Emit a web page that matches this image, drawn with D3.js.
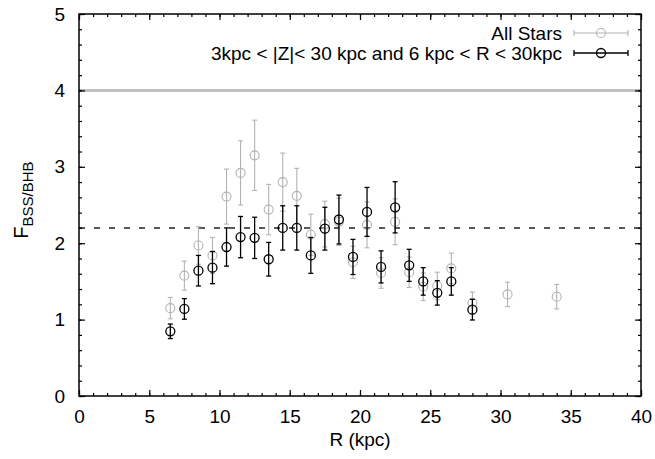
<!DOCTYPE html>
<html>
<head>
<meta charset="utf-8">
<script src="https://cdn.jsdelivr.net/npm/d3@7"></script>
<style>
    body { margin: 0; background: #fff; }
    svg { display: block; font-family: "Liberation Sans", Arial, sans-serif; }
</style>
</head>
<body>
<div id="space"></div>
<script>
// All stars (grey)
var all_r   = [6.5, 7.5, 8.5, 9.5, 10.5, 11.5, 12.5, 13.5, 14.5, 15.5, 16.5, 17.5, 18.5, 19.5, 20.5, 21.5, 22.5, 23.5, 24.5, 25.5, 26.5, 28, 30.5, 34];
var all_f   = [1.15, 1.575, 1.97, 1.84, 2.61, 2.92, 3.15, 2.44, 2.80, 2.62, 2.11, 2.25, 2.28, 1.75, 2.24, 1.61, 2.28, 1.62, 1.43, 1.44, 1.67, 1.22, 1.33, 1.30];
var all_err = [0.14, 0.19, 0.245, 0.235, 0.36, 0.42, 0.46, 0.33, 0.38, 0.36, 0.27, 0.30, 0.31, 0.21, 0.30, 0.20, 0.30, 0.20, 0.18, 0.18, 0.20, 0.14, 0.16, 0.16];

// 3kpc < |Z| < 30kpc and 6kpc < R < 30kpc (black)
var sub_r   = [6.5, 7.5, 8.5, 9.5, 10.5, 11.5, 12.5, 13.5, 14.5, 15.5, 16.5, 17.5, 18.5, 19.5, 20.5, 21.5, 22.5, 23.5, 24.5, 25.5, 26.5, 28];
var sub_f   = [0.847, 1.14, 1.64, 1.68, 1.95, 2.08, 2.07, 1.79, 2.20, 2.20, 1.84, 2.19, 2.31, 1.82, 2.41, 1.69, 2.47, 1.71, 1.50, 1.35, 1.50, 1.13];
var sub_err = [0.095, 0.135, 0.20, 0.21, 0.25, 0.27, 0.27, 0.22, 0.29, 0.29, 0.235, 0.28, 0.32, 0.23, 0.32, 0.21, 0.335, 0.21, 0.18, 0.16, 0.18, 0.135];

var legend_labels = ["All Stars", "3kpc < |Z|< 30 kpc and 6 kpc < R < 30kpc"];
var x_ticks = [0, 5, 10, 15, 20, 25, 30, 35, 40];
var y_ticks = [0, 1, 2, 3, 4, 5];
var ref_top = 4;      // grey horizontal line
var ref_mid = 2.2;    // dashed line

var W = 655, H = 459;
var pl = 79, pr = 641, pt_y = 14, pb = 396;
var svg, x, y;

init();

function init() {
    svg = d3.select("#space").append("svg")
        .attr("width", W)
        .attr("height", H);

    x = d3.scaleLinear().domain([0, 40]).range([pl, pr]);
    y = d3.scaleLinear().domain([0, 5]).range([pb, pt_y]);

    svg.append("g").attr("id", "lines");
    svg.append("g").attr("id", "marks");
    svg.append("g").attr("id", "axes");
    svg.append("g").attr("id", "legend");

    drawRefLines();
    drawSeries(all_r, all_f, all_err, "#b3b3b3", 1.1);
    drawSeries(sub_r, sub_f, sub_err, "#000", 1.3);
    drawAxes();
    drawLegend();
}

function drawRefLines() {
    var g = svg.select("#lines");
    g.append("line")
        .attr("x1", x(0)).attr("x2", x(40))
        .attr("y1", y(ref_top)).attr("y2", y(ref_top))
        .attr("stroke", "#c0c0c0")
        .attr("stroke-width", 3);

    g.append("line")
        .attr("x1", x(0)).attr("x2", x(40))
        .attr("y1", y(ref_mid)).attr("y2", y(ref_mid))
        .attr("stroke", "#222")
        .attr("stroke-width", 1.5)
        .attr("stroke-dasharray", "6,9");
}

function drawSeries(rs, fs, errs, color, sw) {
    var data = rs.map(function (r, i) { return { r: r, f: fs[i], e: errs[i] }; });
    var g = svg.select("#marks").append("g")
        .attr("stroke", color)
        .attr("stroke-width", sw)
        .attr("fill", "none");
    var cap = 2.5;

    var pt = g.selectAll("g.pt").data(data).enter().append("g").attr("class", "pt");
    pt.append("line")
        .attr("x1", function (d) { return x(d.r); })
        .attr("x2", function (d) { return x(d.r); })
        .attr("y1", function (d) { return y(d.f - d.e); })
        .attr("y2", function (d) { return y(d.f + d.e); });
    pt.append("line")
        .attr("x1", function (d) { return x(d.r) - cap; })
        .attr("x2", function (d) { return x(d.r) + cap; })
        .attr("y1", function (d) { return y(d.f + d.e); })
        .attr("y2", function (d) { return y(d.f + d.e); });
    pt.append("line")
        .attr("x1", function (d) { return x(d.r) - cap; })
        .attr("x2", function (d) { return x(d.r) + cap; })
        .attr("y1", function (d) { return y(d.f - d.e); })
        .attr("y2", function (d) { return y(d.f - d.e); });
    pt.append("circle")
        .attr("cx", function (d) { return x(d.r); })
        .attr("cy", function (d) { return y(d.f); })
        .attr("r", 4.5);
}

function drawAxes() {
    var g = svg.select("#axes");
    var minorX = d3.range(0, 41, 1);
    var minorY = d3.range(0, 5.01, 0.2);

    // minor ticks, all four sides
    g.append("g").attr("transform", "translate(0," + pb + ")")
        .call(d3.axisBottom(x).tickValues(minorX).tickSize(-3).tickFormat(""));
    g.append("g").attr("transform", "translate(0," + pt_y + ")")
        .call(d3.axisTop(x).tickValues(minorX).tickSize(-3).tickFormat(""));
    g.append("g").attr("transform", "translate(" + pl + ",0)")
        .call(d3.axisLeft(y).tickValues(minorY).tickSize(-3).tickFormat(""));
    g.append("g").attr("transform", "translate(" + pr + ",0)")
        .call(d3.axisRight(y).tickValues(minorY).tickSize(-3).tickFormat(""));

    // major ticks with labels
    g.append("g").attr("class", "xaxis").attr("transform", "translate(0," + pb + ")")
        .call(d3.axisBottom(x).tickValues(x_ticks).tickSize(-6).tickPadding(14).tickFormat(d3.format("d")));
    g.append("g").attr("transform", "translate(0," + pt_y + ")")
        .call(d3.axisTop(x).tickValues(x_ticks).tickSize(-6).tickFormat(""));
    g.append("g").attr("class", "yaxis").attr("transform", "translate(" + pl + ",0)")
        .call(d3.axisLeft(y).tickValues(y_ticks).tickSize(-6).tickPadding(14).tickFormat(d3.format("d")));
    g.append("g").attr("transform", "translate(" + pr + ",0)")
        .call(d3.axisRight(y).tickValues(y_ticks).tickSize(-6).tickFormat(""));

    g.selectAll(".domain").remove();
    g.selectAll(".tick line").attr("stroke", "#000").attr("stroke-width", 1.2);
    g.selectAll(".tick text")
        .attr("font-family", "Liberation Sans, Arial, sans-serif")
        .attr("font-size", 19)
        .attr("fill", "#000");

    // border
    g.append("rect")
        .attr("x", pl).attr("y", pt_y)
        .attr("width", pr - pl).attr("height", pb - pt_y)
        .attr("fill", "none")
        .attr("stroke", "#000")
        .attr("stroke-width", 1.5);

    // axis titles
    g.append("text")
        .attr("x", (pl + pr) / 2)
        .attr("y", 446)
        .attr("text-anchor", "middle")
        .attr("font-size", 19)
        .text("R (kpc)");

    var yl = g.append("text")
        .attr("transform", "translate(28,200) rotate(-90)")
        .attr("text-anchor", "middle")
        .attr("font-size", 20);
    yl.append("tspan").text("F");
    yl.append("tspan").attr("font-size", 15).attr("dy", 5).text("BSS/BHB");
}

function drawLegend() {
    var g = svg.select("#legend");
    var colors = ["#b3b3b3", "#000"];
    var rows = [33, 53];
    var x0 = 574, x1 = 628, xc = 601;

    for (var i = 0; i < legend_labels.length; i++) {
        g.append("text")
            .attr("x", 562)
            .attr("y", rows[i])
            .attr("dy", "0.35em")
            .attr("text-anchor", "end")
            .attr("font-size", 19)
            .text(legend_labels[i]);

        var s = g.append("g").attr("stroke", colors[i]).attr("stroke-width", i == 0 ? 1.1 : 1.3).attr("fill", "none");
        s.append("line").attr("x1", x0).attr("x2", x1).attr("y1", rows[i]).attr("y2", rows[i]);
        s.append("line").attr("x1", x0).attr("x2", x0).attr("y1", rows[i] - 3).attr("y2", rows[i] + 3);
        s.append("line").attr("x1", x1).attr("x2", x1).attr("y1", rows[i] - 3).attr("y2", rows[i] + 3);
        s.append("circle").attr("cx", xc).attr("cy", rows[i]).attr("r", 4.5);
    }
}
</script>
</body>
</html>
